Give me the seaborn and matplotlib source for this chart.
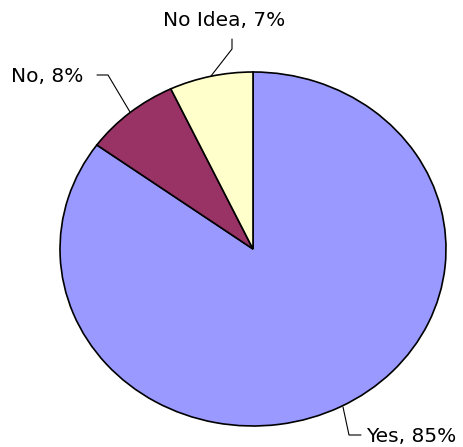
import matplotlib
matplotlib.use('Agg')
import matplotlib.pyplot as plt
import seaborn as sns

# Datos del grafico
categorias = ['Yes', 'No', 'No Idea']
porcentajes = [85, 8, 7]
colores = ['#9999FF', '#993366', '#FFFFCC']

sns.set_theme(style='white')
plt.rcParams['font.family'] = ['DejaVu Sans']

W, H = 464, 447
fig = plt.figure(figsize=(W / 100, H / 100), dpi=100)

# El pastel es una elipse: centro (253, 249), radios 193 x 177 px
cx, cy, rx, ry = 253, 249, 193, 177
ax = fig.add_axes([(cx - rx) / W, (H - cy - ry) / H, 2 * rx / W, 2 * ry / H])
ax.pie(porcentajes, colors=colores, startangle=90, counterclock=False,
       wedgeprops={'edgecolor': 'black', 'linewidth': 1.2})
ax.set_aspect('auto')
ax.set_xlim(-1, 1)
ax.set_ylim(-1, 1)


def px(x, y):
    # pixel de la figura -> coordenadas del eje
    return (x - cx) / rx, (cy - y) / ry


# Etiquetas y lineas guia
etiquetas = [f'{c}, {p}%' for c, p in zip(categorias, porcentajes)]
pos_texto = [(366, 437, 'left'), (83, 76, 'right'), (163, 21, 'left')]
guias = [
    [(343, 407), (349, 435), (361, 435)],
    [(97, 75), (108, 75), (130, 112)],
    [(232, 39), (232, 49), (211, 76)],
]

for texto, (tx, ty, ha), guia in zip(etiquetas, pos_texto, guias):
    x, y = px(tx, ty)
    ax.text(x, y, texto, ha=ha, va='center', fontsize=14.5, color='black')
    xs, ys = zip(*[px(a, b) for a, b in guia])
    ax.plot(xs, ys, color='black', linewidth=0.8, clip_on=False)

fig.savefig('out.png', dpi=100)
